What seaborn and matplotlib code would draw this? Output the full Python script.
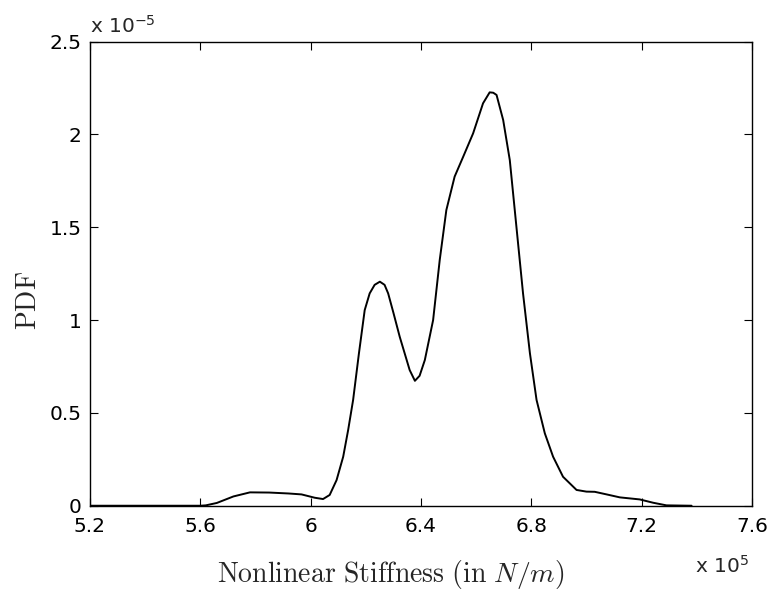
import numpy as np
import pandas as pd
import matplotlib
matplotlib.use("Agg")
import matplotlib.pyplot as plt
import seaborn as sns

# stiffness in units of 1e5 N/m, pdf in units of 1e-5
stiffness = [5.20, 5.60, 5.62, 5.66, 5.72, 5.78, 5.85, 5.92, 5.967, 6.015, 6.045,
             6.069, 6.094, 6.118, 6.136, 6.154, 6.175, 6.196, 6.214, 6.232, 6.251,
             6.268, 6.281, 6.300, 6.323, 6.359, 6.378, 6.395, 6.414, 6.444, 6.468,
             6.492, 6.522, 6.553, 6.589, 6.625, 6.649, 6.662, 6.674, 6.698, 6.722,
             6.746, 6.770, 6.795, 6.819, 6.849, 6.879, 6.915, 6.964, 7.000, 7.030,
             7.073, 7.121, 7.193, 7.242, 7.290, 7.381]
pdf = [0.0, 0.0, 0.002, 0.015, 0.05, 0.072, 0.071, 0.066, 0.061, 0.043, 0.036,
       0.058, 0.138, 0.264, 0.408, 0.57, 0.82, 1.054, 1.144, 1.19, 1.207,
       1.19, 1.144, 1.04, 0.91, 0.731, 0.673, 0.70, 0.785, 1.0, 1.324,
       1.593, 1.773, 1.880, 2.006, 2.168, 2.227, 2.225, 2.213, 2.078, 1.862,
       1.503, 1.144, 0.821, 0.57, 0.39, 0.264, 0.156, 0.085, 0.076, 0.075,
       0.061, 0.045, 0.034, 0.016, 0.002, 0.0]

xticks = [5.2, 5.6, 6.0, 6.4, 6.8, 7.2, 7.6]
xticklabels = ['5.2', '5.6', '6', '6.4', '6.8', '7.2', '7.6']
yticks = [0, 0.5, 1.0, 1.5, 2.0, 2.5]
yticklabels = ['0', '0.5', '1', '1.5', '2', '2.5']

df = pd.DataFrame({'k': stiffness, 'pdf': pdf})

sns.set_style("ticks")
plt.rcParams['font.family'] = ['DejaVu Sans']
plt.rcParams['mathtext.fontset'] = 'cm'

fig = plt.figure(figsize=(7.73, 5.98), dpi=100)
ax = fig.add_axes([0.1164, 0.1543, 0.8564, 0.776])

sns.lineplot(data=df, x='k', y='pdf', color='black', linewidth=1.4, ax=ax)

ax.set_xlim(5.2, 7.6)
ax.set_ylim(0, 2.5)
ax.set_xticks(xticks)
ax.set_xticklabels(xticklabels)
ax.set_yticks(yticks)
ax.set_yticklabels(yticklabels)
ax.tick_params(direction='in', length=6, width=0.8, labelsize=14.5, top=True, right=True,
               colors='black')
ax.tick_params(axis='x', pad=8)
ax.tick_params(axis='y', pad=6)
for s in ax.spines.values():
    s.set_visible(True)
    s.set_linewidth(1.0)
    s.set_color('black')

ax.set_xlabel(r'$\mathrm{Nonlinear\ Stiffness\ (in\ }N/m\mathrm{)}$', fontsize=20, va='center')
ax.xaxis.set_label_coords(0.455, -0.148)
ax.set_ylabel(r'$\mathrm{PDF}$', fontsize=20, va='center')
ax.yaxis.set_label_coords(-0.094, 0.443)

fig.text(90 / 773, 1 - 33 / 598, r'x 10$^{\mathregular{-5}}$', fontsize=14.5,
         ha='left', va='baseline', math_fontfamily='dejavusans')
fig.text(695 / 773, 1 - 573 / 598, r'x 10$^{\mathregular{5}}$', fontsize=14.5,
         ha='left', va='baseline', math_fontfamily='dejavusans')

plt.savefig('out.png', dpi=100)
